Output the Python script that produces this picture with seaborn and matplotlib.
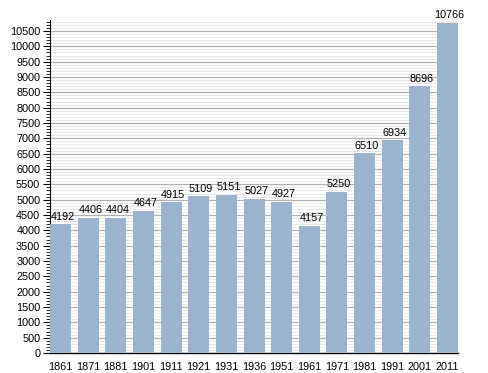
import matplotlib
matplotlib.use("Agg")
import matplotlib.pyplot as plt
import seaborn as sns
from matplotlib.ticker import MultipleLocator

years = ["1861", "1871", "1881", "1901", "1911", "1921", "1931", "1936",
         "1951", "1961", "1971", "1981", "1991", "2001", "2011"]
population = [4192, 4406, 4404, 4647, 4915, 5109, 5151, 5027,
              4927, 4157, 5250, 6510, 6934, 8696, 10766]

sns.set_style("white")
plt.rcParams['font.family'] = ['Liberation Sans', 'DejaVu Sans']

fig = plt.figure(figsize=(4.88, 3.73), dpi=100)
ax = fig.add_axes([0.1025, 0.0536, 0.836, 0.8928])

w = 0.76
sns.barplot(x=years, y=population, color="#9bb3ce", saturation=1,
            width=w, ax=ax, zorder=3, edgecolor="none", linewidth=0)

# value labels above the bars
for i, v in enumerate(population):
    ax.text(i + 0.08, v + 90, str(v), ha="center", va="bottom", fontsize=7.8,
            color="black", zorder=4)

ax.set_xlim(-w / 2, len(years) - 1 + w / 2)
ax.set_ylim(0, 10860)
ax.yaxis.set_major_locator(MultipleLocator(500))
ax.yaxis.set_minor_locator(MultipleLocator(100))
ax.grid(which="major", axis="y", color="#b0b0b0", linewidth=0.9, zorder=0)
ax.grid(which="minor", axis="y", color="#e8e8e8", linewidth=0.7, zorder=0)
ax.set_axisbelow(True)

for s in ["top", "right"]:
    ax.spines[s].set_visible(False)
ax.spines["left"].set_color("black")
ax.spines["bottom"].set_color("black")
ax.spines["left"].set_linewidth(0.8)
ax.spines["bottom"].set_linewidth(1.0)

ax.tick_params(axis="y", which="major", left=True, length=5, width=0.8,
               labelsize=7.8, pad=2, color="black", labelcolor="black")
ax.tick_params(axis="y", which="minor", left=True, length=3, width=0.6,
               color="black")
ax.tick_params(axis="x", bottom=False, labelsize=7.8, pad=3,
               labelcolor="black")
ax.set_xlabel("")
ax.set_ylabel("")

fig.savefig("out.png", dpi=100)
